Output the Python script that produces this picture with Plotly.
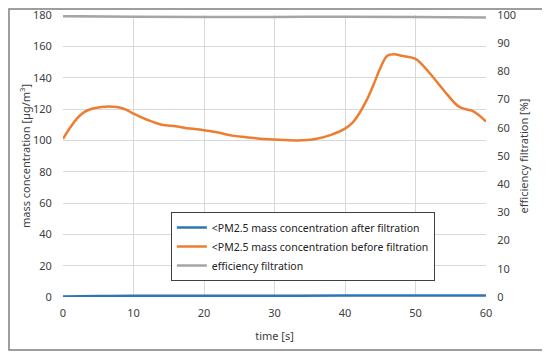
import plotly.graph_objects as go

time_s = [0, 1, 2, 3, 4, 5, 6, 7, 8, 9, 10, 12, 14, 16, 18, 20, 22, 24, 26, 28, 30, 32, 34, 36, 38, 40, 41, 42, 43, 44, 45, 46, 47, 48, 50, 51, 52, 54, 56, 57, 58, 59, 60]
before = [101, 108, 114, 118, 120, 121, 121.5, 121.5, 121, 119.5, 117, 113, 110, 109, 107.5, 106.5, 105, 103, 102, 101, 100.5, 100, 100, 101, 103.5, 107.5, 111, 117, 125, 135, 146, 154, 155, 154, 152, 148, 143, 132, 122, 120, 119, 116, 112]
after_t = [0, 5, 10, 20, 30, 40, 45, 50, 60]
after = [0.3, 0.6, 0.8, 0.8, 0.8, 0.9, 1.0, 1.0, 1.0]
eff_t = [0, 10, 20, 30, 40, 50, 60]
efficiency = [99.6, 99.4, 99.3, 99.3, 99.4, 99.3, 99.1]

font = "Noto Sans"
fig = go.Figure()
fig.add_trace(go.Scatter(x=after_t, y=after, mode="lines", line=dict(color="#2E75B6", width=2.5, shape="spline"),
                         name="<PM2.5 mass concentration after filtration"))
fig.add_trace(go.Scatter(x=time_s, y=before, mode="lines", line=dict(color="#ED7D31", width=2.5, shape="spline"),
                         name="<PM2.5 mass concentration before filtration"))
fig.add_trace(go.Scatter(x=eff_t, y=efficiency, mode="lines", line=dict(color="#A5A5A5", width=2.5, shape="spline"),
                         name="efficiency filtration", yaxis="y2"))

fig.update_layout(
    width=542, height=348,
    margin=dict(l=55, r=64, t=7, b=59),
    paper_bgcolor="white", plot_bgcolor="white",
    font=dict(family=font, size=11, color="#404040"),
    showlegend=True,
    legend=dict(x=0.255, y=0.301, xanchor="left", yanchor="top", bgcolor="white",
                bordercolor="#404040", borderwidth=1, font=dict(size=10.5, color="#222"),
                tracegroupgap=0, itemwidth=30),
    xaxis=dict(range=[0, 60], dtick=10, showgrid=True, gridcolor="#D9D9D9", zeroline=False, automargin=False,
               showline=False, ticks="outside", ticklen=6, tickcolor="rgba(0,0,0,0)",
               ticklabeloverflow="allow",
               title=dict(text="time [s]", font=dict(size=11), standoff=13)),
    yaxis=dict(range=[0, 180], dtick=20, showgrid=True, gridcolor="#D9D9D9", zeroline=False, automargin=False,
               ticks="outside", ticklen=8, tickcolor="rgba(0,0,0,0)", ticklabeloverflow="allow",
               title=dict(text="mass concentration [µg/m<sup>3</sup>]", font=dict(size=11), standoff=0)),
    yaxis2=dict(range=[0, 100], dtick=10, overlaying="y", side="right", showgrid=False, zeroline=False,
                automargin=False, ticks="outside", ticklen=8, tickcolor="rgba(0,0,0,0)", ticklabeloverflow="allow",
                title=dict(text="efficiency filtration [%]", font=dict(size=11), standoff=5)),
    shapes=[dict(type="rect", xref="paper", yref="paper", x0=-0.1277, x1=1.1418, y0=-0.188, y1=1.0213,
                 line=dict(color="#7F7F7F", width=1.5), fillcolor="rgba(0,0,0,0)", layer="below")],
)
fig.write_html("out.html")
